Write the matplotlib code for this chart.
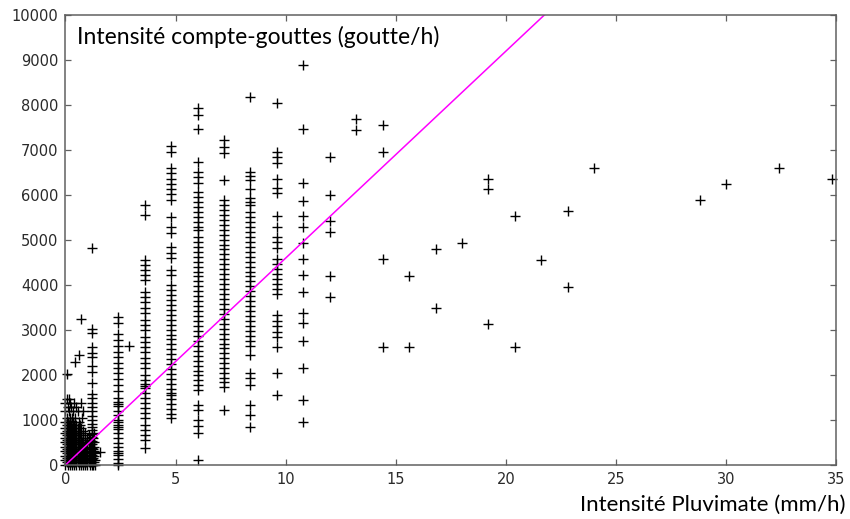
import matplotlib
matplotlib.use("Agg")
import matplotlib.pyplot as plt
import numpy as np

# Rain gauge intensity steps (mm/h) and drop counter values (goutte/h)
col_x = [1.2, 2.4, 3.6, 4.8, 6.0, 7.2, 8.4, 9.6, 10.8, 12.0, 13.2]
col_1_2 = [4820, 3020, 2930, 2630, 2500, 2400, 2190, 2070, 1820, 1580, 1480, 1380,
           1300, 1200, 1100, 1000, 920, 850, 780, 700, 620, 540, 460, 380, 300,
           220, 140, 60, 0]
col_2_4 = [3296, 3163, 2911, 2778, 2652, 2519, 2407, 2274, 2148, 2037, 1904, 1778,
           1652, 1481, 1407, 1350, 1311, 1207, 1111, 1000, 950, 889, 850, 793, 704,
           593, 481, 407, 319, 260, 222, 126, 37, 0]
col_3_6 = [5778, 5556, 4556, 4444, 4333, 4222, 4111, 3852, 3741, 3630, 3481, 3370,
           3222, 3111, 3000, 2852, 2741, 2630, 2519, 2370, 2259, 2148, 2000, 1889,
           1800, 1750, 1704, 1593, 1481, 1370, 1259, 1148, 1037, 889, 778, 667,
           556, 370]
col_4_8 = [7100, 6960, 6600, 6480, 6360, 6250, 6130, 6020, 5900, 5510, 5290, 5150,
           4840, 4720, 4600, 4330, 4220, 4000, 3890, 3780, 3670, 3560, 3450, 3340,
           3230, 3120, 3010, 2900, 2790, 2680, 2570, 2460, 2350, 2240, 2130, 2020,
           1910, 1800, 1690, 1600, 1560, 1470, 1360, 1250, 1140, 1050]
col_6_0 = [7930, 7780, 7460, 6730, 6510, 6390, 6270, 6070, 5960, 5850, 5740, 5630,
           5520, 5410, 5300, 5220, 5070, 4960, 4850, 4740, 4630, 4520, 4410, 4300,
           4190, 4080, 3970, 3860, 3750, 3640, 3530, 3420, 3310, 3200, 3090, 2980,
           2870, 2760, 2650, 2540, 2430, 2320, 2210, 2100, 1990, 1880, 1780, 1670,
           1330, 1220, 1000, 860, 720, 110]
col_7_2 = [7220, 7074, 6940, 6330, 5890, 5780, 5670, 5560, 5450, 5340, 5230, 5120,
           5010, 4900, 4790, 4680, 4570, 4460, 4350, 4240, 4130, 4020, 3910, 3800,
           3690, 3580, 3470, 3360, 3250, 3140, 3030, 2920, 2810, 2700, 2590, 2480,
           2370, 2260, 2150, 2040, 1940, 1840, 1730, 1220]
col_8_4 = [8170, 6510, 6420, 6330, 6130, 5930, 5850, 5780, 5620, 5510, 5400, 5290,
           5180, 5070, 4960, 4850, 4740, 4630, 4520, 4410, 4300, 4190, 4080, 3970,
           3860, 3750, 3640, 3530, 3420, 3310, 3200, 3090, 2980, 2870, 2760, 2650,
           2440, 2040, 1930, 1780, 1330, 1110, 850]
col_9_6 = [8040, 6960, 6840, 6710, 6360, 6150, 6040, 5530, 5290, 5070, 4950, 4830,
           4570, 4460, 4350, 4240, 4130, 4020, 3910, 3800, 3330, 3200, 3080, 2950,
           2840, 2630, 2040, 1560]
col_10_8 = [8890, 7460, 6260, 5870, 5530, 5290, 4940, 4570, 4220, 3840, 3370, 3150,
            2760, 2160, 1440, 960]
col_12_0 = [6850, 6010, 5420, 5170, 4200, 3740]
col_13_2 = [7700, 7440]
columns = [col_1_2, col_2_4, col_3_6, col_4_8, col_6_0, col_7_2, col_8_4,
           col_9_6, col_10_8, col_12_0, col_13_2]

# Isolated points (high intensities and outliers)
sparse_x = [14.4, 14.4, 14.4, 14.4, 15.6, 15.6, 16.8, 16.8, 18.0, 19.2, 19.2, 19.2,
            20.4, 20.4, 21.6, 22.8, 22.8, 24.0, 28.8, 30.0, 32.4, 34.8,
            0.7, 0.6, 0.45, 0.05, 1.55, 2.9]
sparse_y = [7560, 6960, 4570, 2630, 4200, 2630, 4800, 3490, 4930, 6360, 6130, 3130,
            5530, 2630, 4560, 5640, 3960, 6610, 5880, 6250, 6610, 6360,
            3240, 2440, 2290, 2020, 290, 2650]

# Dense cluster of low intensities (x values for each y level)
blob_levels = [10, 60, 110, 160, 210, 260, 310, 360, 410, 460, 510, 560, 610,
               660, 710, 760, 820, 880, 950, 1050, 1200, 1300, 1380, 1460]
blob_rows = [
    [0.0, 0.1, 0.2, 0.3, 0.4, 0.5, 0.6, 0.7, 0.8, 0.9, 1.0, 1.1, 1.25, 1.35],
    [0.05, 0.15, 0.25, 0.35, 0.45, 0.55, 0.65, 0.75, 0.85, 0.95, 1.05, 1.15, 1.3],
    [0.0, 0.1, 0.2, 0.3, 0.4, 0.5, 0.6, 0.7, 0.8, 0.9, 1.0, 1.1, 1.35],
    [0.05, 0.15, 0.25, 0.35, 0.45, 0.55, 0.65, 0.75, 0.85, 0.95, 1.05, 1.25],
    [0.0, 0.1, 0.2, 0.3, 0.4, 0.5, 0.6, 0.7, 0.8, 0.9, 1.0, 1.1, 1.3],
    [0.05, 0.15, 0.25, 0.35, 0.45, 0.55, 0.65, 0.75, 0.85, 1.0, 1.15, 1.35],
    [0.0, 0.1, 0.2, 0.3, 0.4, 0.5, 0.6, 0.7, 0.8, 0.95, 1.05, 1.3],
    [0.05, 0.15, 0.25, 0.35, 0.45, 0.55, 0.65, 0.75, 0.9, 1.1, 1.25],
    [0.0, 0.1, 0.2, 0.3, 0.4, 0.5, 0.6, 0.7, 0.85, 1.0, 1.3],
    [0.05, 0.15, 0.25, 0.35, 0.45, 0.55, 0.65, 0.8, 0.95, 1.15],
    [0.0, 0.1, 0.2, 0.3, 0.4, 0.5, 0.6, 0.75, 1.05, 1.3],
    [0.05, 0.15, 0.25, 0.35, 0.45, 0.55, 0.7, 0.9, 1.1],
    [0.0, 0.1, 0.2, 0.3, 0.4, 0.5, 0.6, 0.8, 1.0, 1.25],
    [0.05, 0.15, 0.25, 0.35, 0.45, 0.55, 0.7, 1.05],
    [0.0, 0.1, 0.2, 0.3, 0.4, 0.5, 0.65, 0.9, 1.3],
    [0.05, 0.15, 0.25, 0.35, 0.45, 0.6, 0.8],
    [0.0, 0.1, 0.2, 0.3, 0.45, 0.55, 0.7],
    [0.05, 0.15, 0.25, 0.4, 0.5, 0.65],
    [0.0, 0.1, 0.2, 0.35, 0.6],
    [0.05, 0.2, 0.3, 0.45, 0.75],
    [0.0, 0.15, 0.35, 0.55, 0.8],
    [0.1, 0.25, 0.5],
    [0.0, 0.2, 0.4, 0.7],
    [0.05, 0.15],
]

slope = 460  # goutte/h per mm/h

fig = plt.figure(figsize=(8.5, 5.19), dpi=100)
ax = fig.add_axes([0.077, 0.104, 0.907, 0.867])

mk = dict(marker="+", color="black", markersize=7.5, markeredgewidth=1.0,
          linestyle="none", clip_on=False)

for x, vals in zip(col_x, columns):
    ax.plot([x] * len(vals), vals, **mk)
ax.plot(sparse_x, sparse_y, **mk)
for lvl, xs in zip(blob_levels, blob_rows):
    ax.plot(xs, [lvl] * len(xs), **mk)

xl = np.array([0, 35])
ax.plot(xl, slope * xl, color="#ff00ff", linewidth=1.1)

ax.set_xlim(0, 35)
ax.set_ylim(0, 10000)
ax.set_xticks(range(0, 36, 5))
ax.set_yticks(range(0, 10001, 1000))

for s in ax.spines.values():
    s.set_color("#606060")
    s.set_linewidth(1.1)
ax.tick_params(direction="in", top=True, right=True, length=4, width=0.9,
               color="#606060", labelcolor="#2a2a2a", labelsize=10.5, pad=5)
for lab in ax.get_xticklabels() + ax.get_yticklabels():
    lab.set_family("DejaVu Sans")

fig.text(77 / 850, 1 - 37 / 519, "Intensité compte-gouttes (goutte/h)",
         fontsize=16.5, family="Lato", va="center", ha="left")
fig.text(845 / 850, 1 - 505 / 519, "Intensité Pluvimate (mm/h)",
         fontsize=16, family="Lato", va="center", ha="right")

fig.savefig("out.png", dpi=100)
